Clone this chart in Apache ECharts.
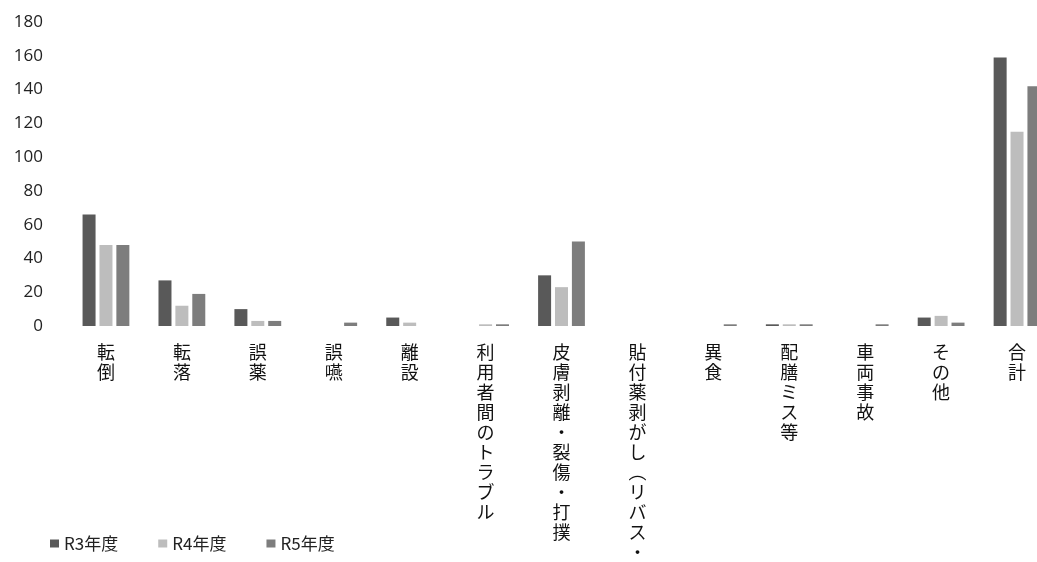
<!DOCTYPE html>
<html><head><meta charset="utf-8">
<script src="https://cdn.jsdelivr.net/npm/echarts@6/dist/echarts.min.js"></script>
<style>html,body{margin:0;padding:0;background:#fff;overflow:hidden;}#c{width:1056px;height:562px;}</style>
</head><body><div id="c"></div>
<script>
const categories = ['転倒','転落','誤薬','誤嚥','離設','利用者間のトラブル','皮膚剥離・裂傷・打撲','貼付薬剥がし︵リバス・','異食','配膳ミス等','車両事故','その他','合計'];
const r3 = [66, 27, 10, 0, 5, 0, 30, 0, 0, 1, 0, 5, 159];
const r4 = [48, 12, 3, 0, 2, 1, 23, 0, 0, 1, 0, 6, 115];
const r5 = [48, 19, 3, 2, 0, 1, 50, 0, 1, 1, 1, 2, 142];
const seriesNames = ['R3年度','R4年度','R5年度'];
const yTicks = {min: 0, max: 180, interval: 20};

const chart = echarts.init(document.getElementById('c'), null, {renderer: 'canvas'});
const font = '"Noto Sans CJK JP", "Noto Sans", sans-serif';
const colors = ['#595959', '#bdbdbd', '#7d7d7d'];
chart.setOption({
  backgroundColor: '#ffffff',
  animation: false,
  color: colors,
  legend: {
    left: 45, top: 530, icon: 'rect', itemWidth: 9, itemHeight: 8, itemGap: 40,
    textStyle: {fontFamily: font, fontSize: 17, color: '#222'},
    data: seriesNames
  },
  grid: {left: 68, right: 1, top: 22, bottom: 234, containLabel: false},
  xAxis: {
    type: 'category', data: categories,
    axisLine: {show: false}, axisTick: {show: false},
    axisLabel: {
      interval: 0, margin: 16, fontFamily: font, fontSize: 18, lineHeight: 20, color: '#111',
      verticalAlign: 'top',
      formatter: v => v.split('').join('\n')
    }
  },
  yAxis: {
    type: 'value', min: yTicks.min, max: yTicks.max, interval: yTicks.interval,
    axisLine: {show: false}, axisTick: {show: false}, splitLine: {show: false},
    axisLabel: {margin: 25, fontFamily: '"Open Sans", "Noto Sans", sans-serif', fontSize: 17, color: '#222'}
  },
  series: [
    {name: seriesNames[0], type: 'bar', data: r3, barWidth: 13, barGap: '30%'},
    {name: seriesNames[1], type: 'bar', data: r4, barWidth: 13, barGap: '30%'},
    {name: seriesNames[2], type: 'bar', data: r5, barWidth: 13, barGap: '30%'}
  ]
});
</script></body></html>
